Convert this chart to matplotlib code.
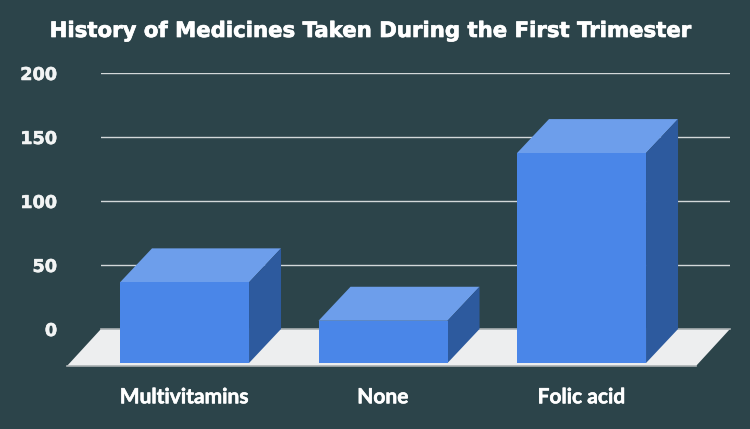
import matplotlib
matplotlib.use("Agg")
import matplotlib.pyplot as plt
from matplotlib.patches import Polygon
import matplotlib.patheffects as pe

title = "History of Medicines Taken During the First Trimester"
categories = ["Multivitamins", "None", "Folic acid"]
values = [63, 33, 164]
y_ticks = [0, 50, 100, 150, 200]

BG = "#2c444a"
FRONT, TOP, SIDE = "#4a86e8", "#6d9eeb", "#2d5a9e"
FLOOR = "#edeeef"
W, H = 750, 429

fig = plt.figure(figsize=(W / 100, H / 100), dpi=100, facecolor=BG)
ax = fig.add_axes([101 / W, 1 - 329 / H, (730 - 101) / W, (329 - 73) / H], facecolor="none")
ax.set_xlim(-0.4207, 2.748)
ax.set_ylim(0, 200)

bar_w = 0.65
dx = 32 / 198.5   # depth along x (data units)
dy = 34 / 1.28    # depth along y (data units)
xl, xr = ax.get_xlim()

# floor
fx = 34 / 198.5
fy = 37 / 1.28
ax.add_patch(Polygon([(xl, 0), (xr, 0), (xr - fx, -fy), (xl - fx, -fy)], closed=True,
                     facecolor=FLOOR, edgecolor="none", zorder=1, clip_on=False))
ax.plot([xl, xr], [0, 0], color="#a9b0b2", lw=1.2, zorder=1.5, clip_on=False)
ax.plot([xl - fx, xr - fx], [-fy, -fy], color="#a9b0b2", lw=1.2, zorder=1.5, clip_on=False)

# grid
for t in y_ticks[1:]:
    ax.plot([xl, xr], [t, t], color="#d3d8d9", lw=1.0, zorder=2)

# bars
for i, v in enumerate(values):
    l, r = i - bar_w / 2, i + bar_w / 2
    ax.add_patch(Polygon([(l, v - dy), (r, v - dy), (r + dx, v), (l + dx, v)],
                         closed=True, facecolor=TOP, edgecolor="none", zorder=3, clip_on=False))
    ax.add_patch(Polygon([(r, -dy), (r + dx, 0), (r + dx, v), (r, v - dy)],
                         closed=True, facecolor=SIDE, edgecolor="none", zorder=3, clip_on=False))
    ax.add_patch(Polygon([(l, -dy), (r, -dy), (r, v - dy), (l, v - dy)],
                         closed=True, facecolor=FRONT, edgecolor="none", zorder=4, clip_on=False))

for s in ax.spines.values():
    s.set_visible(False)
ax.set_yticks(y_ticks)
ax.set_yticklabels([str(t) for t in y_ticks], fontfamily="DejaVu Sans", fontweight="bold",
                   fontsize=12.7, color="#f2f4f4")
ax.tick_params(axis="y", length=0, pad=31.5)
for lab in ax.get_yticklabels():
    lab.set_path_effects([pe.withStroke(linewidth=0.4, foreground="#f2f4f4")])
ax.set_xticks(range(len(categories)))
ax.set_xticklabels(categories, fontfamily="Lato", fontweight="bold", fontsize=15.1, color="white")
ax.tick_params(axis="x", length=0, pad=42)
for lab in ax.get_xticklabels():
    lab.set_path_effects([pe.withStroke(linewidth=0.4, foreground="white")])

fig.text(370 / W, 1 - 31 / H, title, ha="center", va="center", color="white",
         fontfamily="DejaVu Sans", fontweight="bold", fontsize=15.3,
         path_effects=[pe.withStroke(linewidth=0.5, foreground="white")])

fig.savefig("out.png", dpi=100, facecolor=BG)
